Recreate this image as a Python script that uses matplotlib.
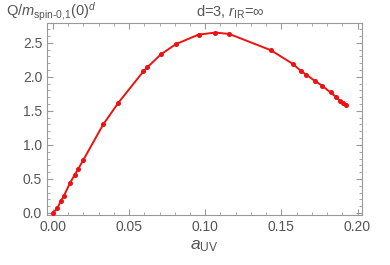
import matplotlib
matplotlib.use("Agg")
import matplotlib.pyplot as plt
from matplotlib.ticker import MultipleLocator

a_uv = [0.0, 0.0029, 0.0053, 0.0072, 0.0112, 0.0143, 0.0167, 0.0200, 0.0330, 0.0430,
        0.0594, 0.0620, 0.0709, 0.0807, 0.0956, 0.1066, 0.1158, 0.1432, 0.1575, 0.1632,
        0.1665, 0.1720, 0.1768, 0.1823, 0.1856, 0.1884, 0.1906, 0.1926]
q_vals = [0.0, 0.07, 0.18, 0.25, 0.44, 0.56, 0.65, 0.78, 1.30, 1.62,
          2.08, 2.14, 2.33, 2.48, 2.62, 2.65, 2.63, 2.39, 2.19, 2.08,
          2.03, 1.94, 1.87, 1.77, 1.71, 1.65, 1.61, 1.58]

plt.rcParams['font.family'] = ['Liberation Sans', 'DejaVu Sans']
plt.rcParams['mathtext.fontset'] = 'custom'
plt.rcParams['mathtext.rm'] = 'Liberation Sans'
plt.rcParams['mathtext.it'] = 'Liberation Sans:italic'

gray = '#555555'
fig = plt.figure(figsize=(3.9, 2.65), dpi=100)
ax = fig.add_axes([0.1205, 0.1887, 0.8075, 0.7243])
ax.plot(a_uv, q_vals, color='#ee1111', lw=1.4, marker='o', ms=2.6, zorder=3)

ax.set_xlim(-0.0039, 0.2029)
ax.set_ylim(-0.03, 2.79)
ax.xaxis.set_major_locator(MultipleLocator(0.05))
ax.xaxis.set_minor_locator(MultipleLocator(0.01))
ax.yaxis.set_major_locator(MultipleLocator(0.5))
ax.yaxis.set_minor_locator(MultipleLocator(0.1))
ax.xaxis.set_major_formatter(plt.FuncFormatter(lambda v, p: f"{v:.2f}"))
ax.yaxis.set_major_formatter(plt.FuncFormatter(lambda v, p: f"{v:.1f}"))

for s in ax.spines.values():
    s.set_color('#999999')
    s.set_linewidth(0.8)
ax.tick_params(which='both', direction='in', top=True, right=True, color='#999999',
               labelcolor=gray, labelsize=10)
ax.tick_params(which='major', length=4, width=0.8)
ax.tick_params(which='minor', length=2, width=0.6)

ax.set_xlabel(r'$a_{\text{UV}}$', fontsize=12.5, color=gray, labelpad=3)
fig.text(0.015, 0.955, r'Q/$m_{\text{spin-0,1}}(0)^d$', fontsize=10.5, color=gray, va='center')
fig.text(0.59, 0.955, r'd=3, $r_{\text{IR}}$=∞', fontsize=10.5, color=gray, ha='center', va='center')

fig.savefig('out.png', dpi=100)
